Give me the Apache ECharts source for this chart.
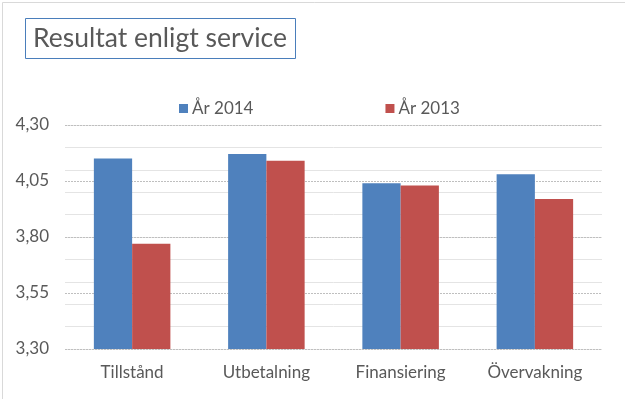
<!DOCTYPE html>
<html>
<head>
<meta charset="UTF-8">
<script src="https://cdn.jsdelivr.net/npm/echarts@6/dist/echarts.min.js"></script>
<style>
html, body { margin: 0; padding: 0; background: #fff; }
#chart { width: 625px; height: 399px; }
</style>
</head>
<body>
<div id="chart"></div>
<script>
// data
const categories = ['Tillstånd', 'Utbetalning', 'Finansiering', 'Övervakning'];
const year2014 = [4.15, 4.17, 4.04, 4.08];
const year2013 = [3.77, 4.14, 4.03, 3.97];
const yTicks = [3.30, 3.55, 3.80, 4.05, 4.30];

const FONT = 'Lato';
const TEXT = '#595959';

const chart = echarts.init(document.getElementById('chart'));

chart.setOption({
    animation: false,
    backgroundColor: '#fff',
    textStyle: { fontFamily: FONT },
    graphic: [{
        type: 'rect',
        left: 0, top: 0,
        shape: { width: 624, height: 398 },
        style: { fill: 'none', stroke: '#d9d9d9', lineWidth: 1 }
    }],
    title: {
        text: 'Resultat enligt service',
        left: 25,
        top: 18,
        padding: [7, 9, 7, 8],
        borderColor: '#4a7ebb',
        borderWidth: 1,
        textStyle: { fontFamily: FONT, fontSize: 26.5, fontWeight: 'normal', color: TEXT }
    },
    legend: {
        top: 95,
        left: 174,
        itemGap: 132,
        itemWidth: 9,
        itemHeight: 9,
        icon: 'rect',
        textStyle: { fontFamily: FONT, fontSize: 17, color: TEXT, padding: [0, 0, 0, -1] }
    },
    grid: { left: 65, right: 23, top: 125, bottom: 50 },
    xAxis: {
        type: 'category',
        data: categories,
        axisLine: { show: false },
        axisTick: { show: false },
        axisLabel: { fontFamily: FONT, fontSize: 17, color: TEXT, margin: 15 }
    },
    yAxis: [{
        type: 'value',
        min: 3.3,
        max: 4.3,
        axisLine: { show: false },
        axisTick: { show: false, customValues: yTicks },
        axisLabel: {
            customValues: yTicks,
            fontFamily: FONT, fontSize: 17, color: TEXT, margin: 16,
            formatter: v => v.toFixed(2).replace('.', ',')
        },
        splitLine: { lineStyle: { color: '#bfbfbf', type: [2, 1], width: 1 } }
    }, {
        type: 'value',
        position: 'left',
        min: 3.3,
        max: 4.3,
        interval: 0.1,
        axisLine: { show: false },
        axisTick: { show: false },
        axisLabel: { show: false },
        splitLine: { lineStyle: { color: '#e4e4e4', width: 1 } },
        z: -1
    }],
    series: [{
        name: 'År 2014',
        type: 'bar',
        data: year2014,
        itemStyle: { color: '#4f81bd' },
        barGap: '0%',
        barCategoryGap: '43%',
        z: 3
    }, {
        name: 'År 2013',
        type: 'bar',
        data: year2013,
        itemStyle: { color: '#c0504d' },
        z: 3
    }]
});
</script>
</body>
</html>
